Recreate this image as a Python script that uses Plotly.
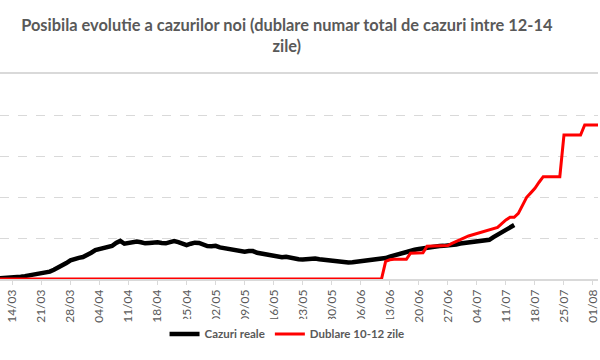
import pandas as pd
import plotly.graph_objects as go

# Daily values, starting 11/03/2020
start_date = "2020-03-11"

cazuri_reale = [
    8, 10, 13, 18, 22, 28, 35, 42, 50, 57, 64, 75, 90, 112, 135, 165, 195, 228, 248, 258,
    268, 290, 320, 352, 362, 368, 378, 402, 440, 465, 430, 440, 450, 456, 448, 435, 440, 450, 447, 440,
    435, 450, 462, 450, 430, 413, 430, 443, 440, 420, 402, 400, 405, 385, 375, 368, 362, 350, 335, 333,
    340, 340, 320, 312, 305, 292, 284, 270, 265, 272, 260, 246, 242, 238, 244, 252, 250, 240, 234, 230,
    220, 212, 200, 198, 200, 204, 210, 218, 222, 228, 232, 236, 240, 255, 272, 288, 300, 314, 330, 346,
    356, 366, 374, 385, 394, 398, 402, 404, 406, 409, 420, 432, 438, 446, 455, 460, 467, 474, 478, 510,
    537, 568, 598, 628, 658,
]

dublare = [0] * 93 + [
    215, 235, 240, 240, 240, 240, 315, 315, 318, 320,
    400, 402, 402, 404, 405, 408, 435, 460, 485, 505,
    525, 540, 555, 568, 582, 595, 612, 630, 675, 720,
    752, 752, 800, 900, 996, 1050, 1106, 1180, 1248, 1248,
    1248, 1248, 1248, 1756, 1756, 1756, 1756, 1756, 1878, 1878,
    1878, 1878, 1878,
]

dates_real = pd.date_range(start_date, periods=len(cazuri_reale), freq="D")
dates_dbl = pd.date_range(start_date, periods=len(dublare), freq="D")

tick_vals = pd.date_range("2020-03-14", "2020-08-01", freq="7D")
tick_text = [d.strftime("%d/%m") for d in tick_vals]

title_text = "Posibila evolutie a cazurilor noi (dublare numar total de cazuri intre 12-14<br>zile)"

GRAY_TXT = "#595959"
GRID = "#d9d9d9"

fig = go.Figure()
fig.add_trace(go.Scatter(
    x=dates_real, y=cazuri_reale, mode="lines", name="Cazuri reale",
    line=dict(color="#000000", width=4.5),
))
fig.add_trace(go.Scatter(
    x=dates_dbl, y=dublare, mode="lines", name="Dublare 10-12 zile",
    line=dict(color="#ff0000", width=3),
))

fig.update_layout(
    width=600, height=360,
    margin=dict(l=0, r=0, t=74, b=81),
    paper_bgcolor="white", plot_bgcolor="white",
    font=dict(family="Lato, Open Sans, sans-serif", color=GRAY_TXT),
    title=dict(text=title_text, x=0.478, xanchor="center", y=0.915, yanchor="top",
               font=dict(size=16.4, color=GRAY_TXT, family="Lato, sans-serif", weight="bold")),
    showlegend=True,
    legend=dict(orientation="h", x=0.48, xanchor="center", y=-0.268, yanchor="middle",
                font=dict(size=11.5, color=GRAY_TXT, weight="bold"), itemwidth=30,
                traceorder="normal"),
    xaxis=dict(
        type="date", range=["2020-03-11 00:00", "2020-08-02 05:00"],
        tickmode="array", tickvals=tick_vals, ticktext=tick_text, tickangle=-90,
        ticks="outside", ticklen=4, tickcolor=GRID, showgrid=False,
        showline=True, mirror=True, linecolor=GRID, linewidth=1.5,
        tickfont=dict(size=12, color=GRAY_TXT), zeroline=False,
        ticklabeloverflow="allow",
    ),
    yaxis=dict(
        range=[0, 2500], dtick=500, showticklabels=False, showgrid=True,
        gridcolor=GRID, griddash="dash", gridwidth=1, zeroline=False, showline=False,
    ),
)

fig.write_html("out.html", config={"displayModeBar": False},
               post_script="document.body.style.margin='0px';")
